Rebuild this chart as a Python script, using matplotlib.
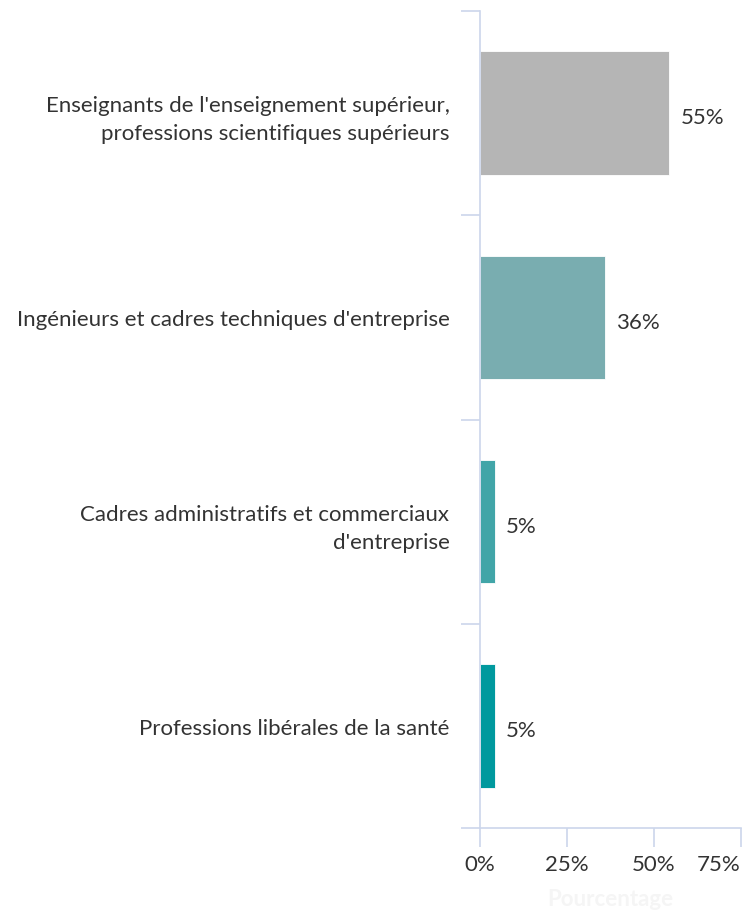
import matplotlib
matplotlib.use("Agg")
import matplotlib.pyplot as plt
from matplotlib.ticker import FixedLocator

plt.rcParams['font.family'] = ['Lato', 'DejaVu Sans']

categories = [
    "Enseignants de l'enseignement supérieur,\nprofessions scientifiques supérieurs",
    "Ingénieurs et cadres techniques d'entreprise",
    "Cadres administratifs et commerciaux\nd'entreprise",
    "Professions libérales de la santé",
]
values = [54.4, 35.8, 4.3, 4.3]
value_labels = ["55%", "36%", "5%", "5%"]
colors = ["#b5b5b5", "#79adb0", "#41a5a8", "#00999e"]
x_ticks = [0, 25, 50, 75]
x_tick_labels = ["0%", "25%", "50%", "75%"]
x_label = "Pourcentage"

FS = 16
W, H = 743, 912
fig = plt.figure(figsize=(W / 100, H / 100), dpi=100)
ax = fig.add_axes([480 / W, 1 - 829 / H, (741 - 480) / W, (829 - 12) / H])

y = list(range(len(categories)))
ax.barh(y, values, height=0.605, color=colors, edgecolor="white", linewidth=0.6, zorder=2)
for yi, v, lab in zip(y, values, value_labels):
    ax.annotate(lab, xy=(v, yi), xytext=(8, -3), textcoords="offset points",
                va="center", ha="left", fontsize=FS, color="#333333")

ax.set_xlim(0, 75)
ax.set_ylim(len(categories) - 0.5, -0.5)

axis_col = "#ccd6eb"
for s in ["top", "right"]:
    ax.spines[s].set_visible(False)
for s in ["left", "bottom"]:
    ax.spines[s].set_color(axis_col)
    ax.spines[s].set_linewidth(1.2)

ax.set_yticks(y)
ax.set_yticklabels(categories, fontsize=FS, color="#333333", linespacing=1.5)
ax.tick_params(axis="y", which="major", length=0, pad=22)
ax.yaxis.set_minor_locator(FixedLocator([i - 0.5 for i in range(len(categories) + 1)]))
ax.tick_params(axis="y", which="minor", length=14, width=1.2, color=axis_col)

ax.set_xticks(x_ticks)
ax.set_xticklabels(x_tick_labels, fontsize=FS, color="#333333")
ax.get_xticklabels()[-1].set_horizontalalignment("right")
ax.tick_params(axis="x", which="major", length=14, width=1.2, color=axis_col, pad=5)
ax.set_xlabel(x_label, fontsize=FS, color="#f5f5f5", fontweight="bold", labelpad=10)

fig.savefig("out.png", dpi=100, facecolor="white")
